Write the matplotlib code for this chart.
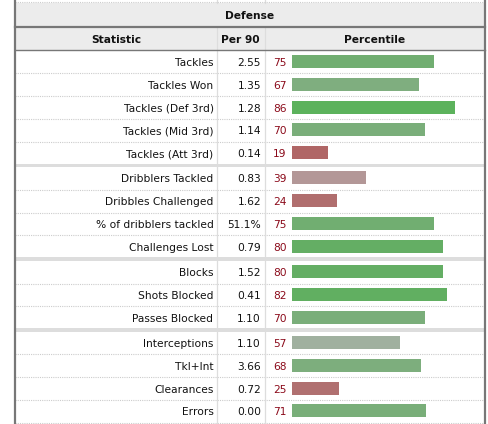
import matplotlib
matplotlib.use("Agg")
import matplotlib.pyplot as plt
from matplotlib.colors import LinearSegmentedColormap

groups = [
    ["Tackles", "Tackles Won", "Tackles (Def 3rd)", "Tackles (Mid 3rd)", "Tackles (Att 3rd)"],
    ["Dribblers Tackled", "Dribbles Challenged", "% of dribblers tackled", "Challenges Lost"],
    ["Blocks", "Shots Blocked", "Passes Blocked"],
    ["Interceptions", "Tkl+Int", "Clearances", "Errors"],
]
per90 = ["2.55", "1.35", "1.28", "1.14", "0.14",
         "0.83", "1.62", "51.1%", "0.79",
         "1.52", "0.41", "1.10",
         "1.10", "3.66", "0.72", "0.00"]
percentile = [75, 67, 86, 70, 19,
              39, 24, 75, 80,
              80, 82, 70,
              57, 68, 25, 71]

# percentile -> bar colour (red .. grey .. green)
pct_cmap = LinearSegmentedColormap.from_list("pct", [
    (0.00, "#b05050"), (0.20, "#b06767"), (0.25, "#b07070"),
    (0.39, "#b39898"), (0.50, "#aeaeaa"), (0.57, "#a0b09f"),
    (0.67, "#7fae7f"), (0.75, "#72ae72"), (0.80, "#64ae64"),
    (0.86, "#5cb25c"), (1.00, "#50b850")])

# layout in pixels
W, H = 488, 424
X_LEFT, X_RIGHT = 15, 485
X_COL1, X_COL2 = 217, 264.5
BAR_X0, PX_PER_PCT = 292, 1.893
ROW_TOP, ROW_H, GAP = 50.5, 22.8, 2.5
FS = 7.7
FONT = "DejaVu Sans"

fig = plt.figure(figsize=(W / 100, H / 100), dpi=100)
ax = fig.add_axes([0, 0, 1, 1])
ax.set_xlim(0, W)
ax.set_ylim(H, 0)
ax.axis("off")

# header bands
ax.fill_between([X_LEFT, X_RIGHT], 3, 50, color="#ececec", lw=0, zorder=0)
ax.plot([X_LEFT, X_RIGHT], [2, 2], color="#cccccc", lw=0.8, ls=(0, (1, 1)))
ax.plot([X_LEFT, X_RIGHT], [26.8, 26.8], color="#777777", lw=1.6)
ax.plot([X_LEFT, X_RIGHT], [50.3, 50.3], color="#777777", lw=1.0)
ax.text((X_LEFT + X_RIGHT) / 2, 19, "Defense", ha="center", va="baseline",
        fontsize=FS, fontweight="bold", family=FONT, color="#111111")
ax.text((X_LEFT + X_COL1) / 2, 43, "Statistic", ha="center", va="baseline",
        fontsize=FS, fontweight="bold", family=FONT, color="#111111")
ax.text((X_COL1 + X_COL2) / 2, 43, "Per 90", ha="center", va="baseline",
        fontsize=FS, fontweight="bold", family=FONT, color="#111111")
ax.text((X_COL2 + X_RIGHT) / 2, 43, "Percentile", ha="center", va="baseline",
        fontsize=FS, fontweight="bold", family=FONT, color="#111111")

# rows
i = 0
bottom = ROW_TOP
for g, names in enumerate(groups):
    for name in names:
        top = ROW_TOP + ROW_H * i + GAP * g
        yc = top + ROW_H / 2
        bottom = top + ROW_H
        ax.text(X_COL1 - 3.5, yc + 4, name, ha="right", va="baseline",
                fontsize=FS, family=FONT, color="#111111")
        ax.text(X_COL2 - 3.5, yc + 4, per90[i], ha="right", va="baseline",
                fontsize=FS, family=FONT, color="#111111")
        ax.text(286.5, yc + 4, str(percentile[i]), ha="right", va="baseline",
                fontsize=FS, family=FONT, color="#8b0a1a")
        ax.barh(yc - 0.5, percentile[i] * PX_PER_PCT, left=BAR_X0, height=13,
                color=pct_cmap(percentile[i] / 100), zorder=2)
        ax.plot([X_LEFT, X_RIGHT], [bottom, bottom], color="#cccccc",
                lw=0.8, ls=(0, (1, 1)), zorder=1)
        i += 1
    if g < len(groups) - 1:
        ax.fill_between([X_LEFT, X_RIGHT], bottom - 1, bottom + GAP,
                        color="#dddddd", lw=0, zorder=1)

# vertical lines
for x in (X_COL1, X_COL2):
    ax.plot([x, x], [27.5, H], color="#dddddd", lw=0.9, zorder=1)
    ax.plot([x, x], [0, 2.5], color="#dddddd", lw=0.9, zorder=1)
for x in (X_LEFT - 0.5, X_RIGHT):
    ax.plot([x, x], [0, H], color="#777777", lw=1.6, zorder=3)

fig.savefig("out.png", dpi=100)
